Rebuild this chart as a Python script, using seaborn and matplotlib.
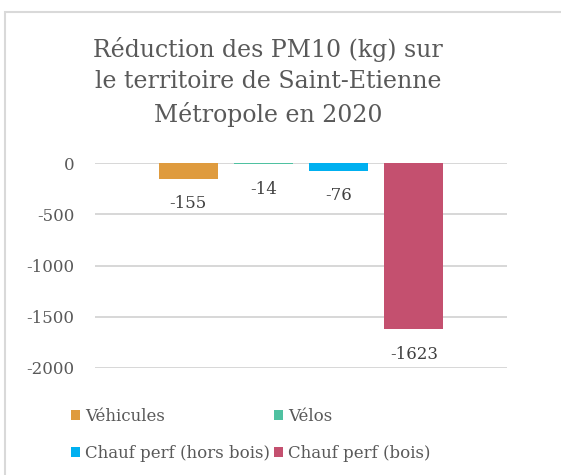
import pandas as pd
import matplotlib.pyplot as plt
import seaborn as sns
from matplotlib.patches import Rectangle

# Data
categories = ["Véhicules", "Vélos", "Chauf perf (hors bois)", "Chauf perf (bois)"]
values = [-155, -14, -76, -1623]
colors = ["#DF9B3E", "#4FC1A1", "#00B0F0", "#C4506F"]
yticks = [0, -500, -1000, -1500, -2000]

df = pd.DataFrame({"groupe": [""] * len(categories), "serie": categories, "valeur": values})

sns.set_theme(style="white")
plt.rcParams["font.family"] = ["DejaVu Serif"]
txt = "#595959"

fig = plt.figure(figsize=(5.61, 4.75), dpi=100)
ax = fig.add_axes([95 / 561, 1 - 368 / 475, 412 / 561, 205 / 475])

sns.barplot(data=df, x="groupe", y="valeur", hue="serie", hue_order=categories,
            palette=colors, width=0.73, gap=0.21, ax=ax, saturation=1, legend=True,
            linewidth=0, edgecolor="none")

# data labels below each bar
for bar, v in zip(ax.patches, values):
    ax.annotate(f"{v}", (bar.get_x() + bar.get_width() / 2, v),
                xytext=(0, -25), textcoords="offset pixels",
                ha="center", va="center", fontsize=12, color="#404040")

ax.set_ylim(-2000, 0)
ax.set_xlim(-0.5, 0.5)
ax.set_yticks(yticks)
ax.set_yticklabels([str(t) for t in yticks], fontsize=12, color=txt)
ax.tick_params(axis="y", length=0, pad=15)
ax.set_xticks([])
ax.set_xlabel("")
ax.set_ylabel("")
ax.grid(axis="y", color="#D4D4D4", lw=1.3)
ax.set_axisbelow(True)
for s in ax.spines.values():
    s.set_visible(False)

handles, labels = ax.get_legend_handles_labels()
ax.legend_.remove()
order = [0, 2, 1, 3]
fig.legend([handles[i] for i in order], [labels[i] for i in order],
           loc="upper left", bbox_to_anchor=(56 / 561, 1 - 393 / 475),
           ncol=2, frameon=False, fontsize=12, labelcolor=txt, handlelength=0.55,
           handleheight=0.55, handletextpad=0.3, columnspacing=0.2, labelspacing=1.2)

fig.text(268 / 561, 1 - 82 / 475,
         "Réduction des PM10 (kg) sur\nle territoire de Saint-Etienne\nMétropole en 2020",
         ha="center", va="center", fontsize=17, color=txt, linespacing=1.45)

fig.patches.append(Rectangle((5 / 561, -0.1), 1.2, 1.1 - 12 / 475,
                             transform=fig.transFigure, fill=False,
                             edgecolor="#D9D9D9", lw=1.5))

fig.savefig("out.png", dpi=100)
